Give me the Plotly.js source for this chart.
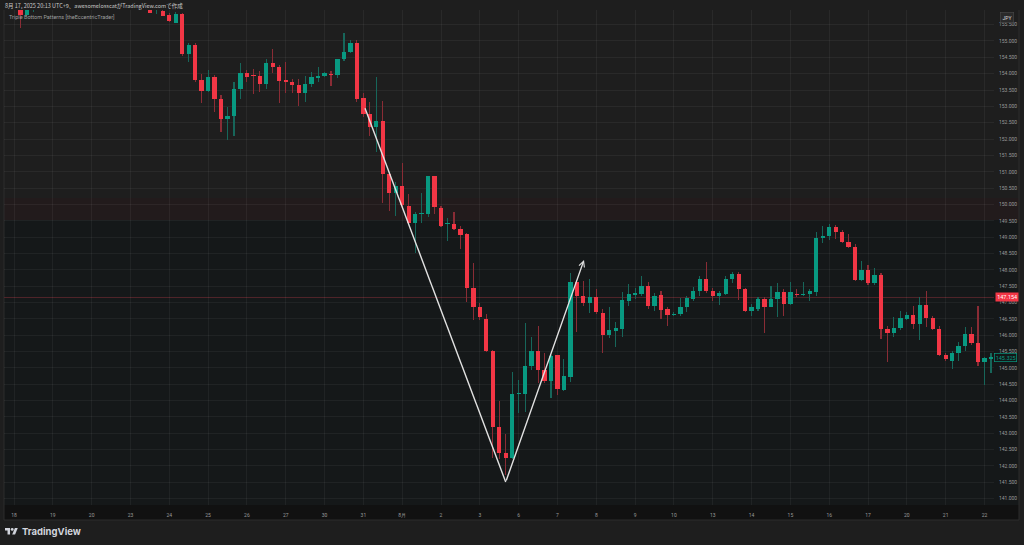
<!DOCTYPE html>
<html><head><meta charset="utf-8">
<script src="https://cdn.plot.ly/plotly-3.0.1.min.js"></script>
<style>html,body{margin:0;padding:0;background:#1e1e1e;overflow:hidden}#chart{width:1024px;height:545px}</style>
</head><body><div id="chart"></div>
<script>
// USD/JPY 4H candles, bar 0 = first session of "18"; null = above the visible range
const open = [
 null,156.20,155.80,156.10,null,null,null,null,null,null,
 null,null,null,null,null,null,null,null,null,null,
 null,156.10,155.98,155.92,155.80,155.56,155.83,154.60,154.87,153.81,
 153.47,153.90,153.24,152.61,152.71,153.52,154.03,153.94,153.93,153.68,
 154.32,154.21,153.81,153.76,153.65,153.42,153.68,153.87,153.93,153.97,
 153.96,154.44,154.67,154.95,153.25,152.77,152.38,152.56,150.93,150.34,
 150.56,149.95,149.44,149.72,149.71,150.87,149.90,149.39,149.40,149.26,
 149.09,147.44,146.85,146.50,145.53,143.18,142.41,142.25,144.21,144.20,
 145.06,145.53,144.94,144.61,145.39,144.32,144.73,147.64,147.20,146.99,
 147.18,146.67,146.01,146.14,146.19,147.06,147.23,147.26,147.51,146.89,
 147.22,146.79,146.62,146.64,146.85,147.12,147.36,147.73,147.36,147.21,
 147.26,147.71,147.86,147.41,146.74,146.79,147.11,146.87,147.12,147.32,
 146.95,147.27,147.23,147.27,147.33,148.96,149.03,149.32,149.15,148.86,
 148.71,147.69,148.00,147.59,147.83,146.20,146.08,146.21,146.50,146.61,
 146.34,146.92,146.54,146.19,145.39,145.22,145.45,145.67,146.04,145.77,
 145.19,145.26];
const high = [
 null,156.30,156.20,156.40,null,null,null,null,null,null,
 null,null,null,null,null,null,null,null,null,null,
 null,156.20,156.10,155.95,155.85,155.89,155.87,154.95,154.95,153.99,
 154.11,153.95,153.35,152.99,153.74,154.32,154.10,154.14,154.09,154.44,
 154.75,154.28,154.37,153.85,153.84,153.93,154.04,154.21,154.06,154.09,
 154.44,155.24,155.03,155.03,153.42,153.14,153.91,153.17,151.00,150.70,
 151.26,150.32,149.78,150.34,150.87,150.87,149.95,149.58,149.78,149.35,
 149.14,148.20,146.98,146.64,145.55,144.00,142.98,144.88,144.63,146.38,
 145.95,146.28,145.45,145.40,145.40,145.26,147.91,147.70,147.67,147.71,
 147.40,146.79,146.87,146.41,147.33,147.56,147.45,147.81,147.63,147.30,
 147.35,146.85,146.70,147.13,147.20,147.48,147.80,148.24,147.45,147.35,
 147.81,147.94,147.92,147.45,146.95,147.17,147.17,147.51,147.61,147.40,
 147.64,147.40,147.64,147.40,149.17,149.35,149.40,149.37,149.22,149.10,
 148.78,148.27,148.15,148.05,147.89,146.28,146.55,146.74,146.70,146.89,
 147.16,147.35,146.58,146.29,145.45,145.53,145.80,146.24,146.24,146.89,
 145.32,145.46];
const low = [
 null,155.39,155.75,155.88,null,null,null,null,null,null,
 null,null,null,null,null,null,null,null,null,null,
 null,155.85,155.83,155.75,155.58,155.54,154.54,154.37,153.75,153.11,
 153.45,152.84,152.23,151.97,152.09,153.23,153.75,153.38,153.45,153.52,
 154.03,153.11,153.40,153.40,153.01,153.14,153.60,153.75,153.90,153.62,
 153.86,154.40,154.62,153.14,152.67,152.09,151.61,150.05,149.81,149.65,
 149.88,149.40,148.52,149.44,149.63,149.71,149.32,148.89,149.22,148.63,
 147.03,146.47,146.47,145.50,142.23,142.20,141.72,142.20,143.61,143.66,
 144.94,144.53,144.55,144.07,144.17,144.28,144.58,146.11,146.89,146.67,
 146.65,145.45,145.91,145.65,145.95,146.90,147.10,147.20,146.80,146.75,
 146.51,146.28,146.58,146.60,146.72,147.05,147.20,147.30,147.06,146.92,
 147.22,147.59,147.08,146.70,146.60,146.75,146.08,146.85,146.55,146.59,
 146.93,147.18,147.20,147.06,147.20,148.81,148.90,148.93,148.82,148.68,
 147.65,147.65,147.55,147.55,145.87,145.19,145.95,146.15,146.45,146.19,
 145.85,146.24,146.15,145.35,145.20,144.96,145.20,145.53,145.70,145.06,
 144.48,144.85];
const close = [
 null,155.80,156.10,156.30,null,null,null,null,null,null,
 null,null,null,null,null,null,null,null,null,null,
 null,155.87,156.05,155.77,155.61,155.83,154.60,154.87,153.81,153.47,
 153.90,153.23,152.61,152.71,153.52,154.03,153.89,153.92,153.68,154.32,
 154.21,153.79,153.76,153.65,153.42,153.68,153.89,153.94,154.03,153.95,
 154.44,154.67,154.95,153.23,152.76,152.38,152.56,150.93,150.34,150.56,
 149.98,149.44,149.70,149.73,150.87,149.91,149.34,149.41,149.25,149.07,
 147.44,146.85,146.55,145.53,143.18,142.41,142.25,144.20,144.23,145.06,
 145.53,144.94,144.61,145.37,144.35,144.75,147.64,147.20,146.99,147.18,
 146.70,146.01,146.16,146.21,147.08,147.26,147.30,147.51,146.89,147.21,
 146.77,146.61,146.64,146.85,147.13,147.36,147.73,147.36,147.20,147.28,
 147.73,147.86,147.41,146.74,146.85,147.11,146.87,147.12,147.32,146.95,
 147.32,147.23,147.27,147.35,148.96,149.04,149.30,149.15,148.86,148.71,
 147.69,148.00,147.61,147.83,146.20,146.08,146.23,146.52,146.61,146.34,
 146.92,146.52,146.18,145.39,145.26,145.45,145.67,146.04,145.77,145.19,
 145.29,145.34];

// date axis: bar index of each day label and its text
const tickBars = [0,6,12,18,24,30,36,42,48,54,60,66,72,78,84,90,96,102,108,114,120,126,132,138,144,150];
const tickText = ['18','19','20','23','24','25','26','27','30','31','8月','2','3','6','7','8','9','10','13','14','15','16','17','20','21','22'];

// triple-bottom pattern drawing: start, bottom, projected tip
const patternBar = [54.25, 76, 88.1];
const patternPrice = [152.94, 141.51, 148.30];

const lastPrice = 147.154;   // red price line / label
const quotePrice = 145.325;  // green label

// ---------- rendering ----------
const W = 1024, H = 545, L = 4, R = 30, T = 10, B = 40;
const px2x = p => (p - L) / (W - L - R);
const py2y = p => (H - B - p) / (H - T - B);

const RED = '#f23645', GREEN = '#089981';
const bars = open.map((_, i) => i);
const up = open.map((o, i) => o !== null && close[i] >= o);
const bodyBase = open.map((o, i) => o === null ? null : Math.min(o, close[i]));
const bodyLen = open.map((o, i) => o === null ? null : Math.max(Math.abs(close[i] - o), 0.03));
const wickLen = high.map((h, i) => h === null ? null : h - low[i]);

const wicks = {
  type: 'bar', x: bars, base: low, y: wickLen, width: 0.17,
  marker: {color: up.map(u => u ? '#17665a' : '#8a2c35'), line: {width: 0}},
  hoverinfo: 'skip', showlegend: false
};
const bodies = {
  type: 'bar', x: bars, base: bodyBase, y: bodyLen, width: 0.66,
  marker: {color: up.map(u => u ? GREEN : RED), line: {width: 0}},
  hoverinfo: 'skip', showlegend: false
};
const vLine = {
  type: 'scatter', mode: 'lines', x: patternBar.slice(0, 2), y: patternPrice.slice(0, 2),
  line: {color: '#e2e2e2', width: 1.4}, hoverinfo: 'skip', showlegend: false
};

function rectPx(x0, y0, x1, y1, color) {
  return {type: 'rect', xref: 'paper', yref: 'paper', layer: 'below',
    x0: px2x(x0), x1: px2x(x1), y0: py2y(y1), y1: py2y(y0),
    fillcolor: color, line: {width: 0}};
}
// TradingView logo
const logoPts = [[14,22],[7,22],[7,11],[0,11],[0,4],[14,4]];
const logoPts2 = [[28,22],[20,22],[27.5,4],[35.5,4]];
const lx = 5, ly = 526.5, ls = 0.36;
const toPath = pts => 'M' + pts.map(p => px2x(lx + p[0]*ls) + ',' + py2y(ly + p[1]*ls)).join('L') + 'Z';

const shapes = [
  rectPx(4, 220, 1019, 505, '#151819'),
  rectPx(4, 198, 1019, 220, '#221b1c'),
  rectPx(4, 505, 1019, 520, '#111111'),
  {type: 'line', xref: 'paper', yref: 'paper', x0: px2x(4), x1: px2x(4), y0: py2y(520), y1: py2y(10), line: {color: '#2c2c2c', width: 1}, layer: 'below'},
  {type: 'line', xref: 'paper', yref: 'paper', x0: px2x(1019), x1: px2x(1019), y0: py2y(520), y1: py2y(10), line: {color: '#2c2c2c', width: 1}, layer: 'below'},
  {type: 'line', xref: 'paper', yref: 'paper', x0: px2x(4), x1: px2x(1019), y0: py2y(520), y1: py2y(520), line: {color: '#2c2c2c', width: 1}, layer: 'below'},
  {type: 'line', xref: 'paper', yref: 'y', x0: 0, x1: 1, y0: lastPrice, y1: lastPrice, line: {color: '#52262b', width: 1}, layer: 'below'},
  {type: 'path', xref: 'paper', yref: 'paper', path: toPath(logoPts), fillcolor: '#d1d4dc', line: {width: 0}},
  {type: 'path', xref: 'paper', yref: 'paper', path: toPath(logoPts2), fillcolor: '#d1d4dc', line: {width: 0}},
  {type: 'circle', xref: 'paper', yref: 'paper', x0: px2x(lx + 16*ls), x1: px2x(lx + 24*ls), y0: py2y(ly + 12*ls), y1: py2y(ly + 4*ls), fillcolor: '#d1d4dc', line: {width: 0}}
];

const annotations = [
  {x: patternBar[2], y: patternPrice[2], ax: patternBar[1], ay: patternPrice[1], xref: 'x', yref: 'y', axref: 'x', ayref: 'y',
   text: '', showarrow: true, arrowhead: 5, arrowsize: 0.8, arrowwidth: 1.4, arrowcolor: '#e2e2e2'},
  {xref: 'paper', yref: 'paper', x: px2x(3), y: py2y(6), xanchor: 'left', yanchor: 'middle', showarrow: false,
   text: '8月 17, 2025 20:13 UTC+9、awesomelosscatがTradingView.comで作成',
   font: {family: 'Noto Sans CJK JP, sans-serif', size: 5.5, color: '#c9c9c9'}},
  {xref: 'paper', yref: 'paper', x: px2x(7), y: py2y(17), xanchor: 'left', yanchor: 'middle', showarrow: false,
   text: 'Triple Bottom Patterns [theEccentricTrader]',
   font: {family: 'Roboto, sans-serif', size: 5.5, color: '#9e9e9e'}},
  {xref: 'paper', yref: 'paper', x: px2x(1007), y: py2y(18), xanchor: 'center', yanchor: 'middle', showarrow: false,
   text: 'JPY', bgcolor: '#2a2a2a', bordercolor: '#4a4a4a', borderwidth: 0.6, borderpad: 2,
   font: {family: 'Roboto, sans-serif', size: 5, color: '#d6d6d6'}},
  {xref: 'paper', yref: 'y', x: px2x(995), y: lastPrice, xanchor: 'left', yanchor: 'middle', showarrow: false,
   text: lastPrice.toFixed(3), bgcolor: RED, borderpad: 1.2,
   font: {family: 'Roboto, sans-serif', size: 5.5, color: '#ffffff'}},
  {xref: 'paper', yref: 'y', x: px2x(994), y: quotePrice, xanchor: 'left', yanchor: 'middle', showarrow: false,
   text: quotePrice.toFixed(3), bgcolor: '#131718', bordercolor: GREEN, borderwidth: 0.7, borderpad: 1,
   font: {family: 'Roboto, sans-serif', size: 5.5, color: GREEN}},
  {xref: 'paper', yref: 'paper', x: px2x(20), y: py2y(532), xanchor: 'left', yanchor: 'middle', showarrow: false,
   text: '<b>TradingView</b>', font: {family: 'Inter, Roboto, sans-serif', size: 9.5, color: '#d1d4dc'}}
];

const layout = {
  width: W, height: H,
  margin: {l: L, r: R, t: T, b: B, pad: 0},
  paper_bgcolor: '#1e1e1e', plot_bgcolor: 'rgba(0,0,0,0)',
  barmode: 'overlay', bargap: 0, showlegend: false,
  xaxis: {range: [-1.546, 151.47], tickmode: 'array', tickvals: tickBars, ticktext: tickText,
    showgrid: true, gridcolor: 'rgba(255,255,255,0.05)', gridwidth: 1, zeroline: false, showline: false,
    ticks: '', ticklabelstandoff: 6, tickfont: {family: 'Roboto, sans-serif', size: 5, color: '#9a9a9a'}, fixedrange: true},
  yaxis: {range: [140.806, 155.948], side: 'right', dtick: 0.5, tick0: 141, tickformat: '.3f',
    showgrid: true, gridcolor: 'rgba(255,255,255,0.05)', gridwidth: 1, zeroline: false, showline: false,
    ticks: '', ticklabelstandoff: 4, tickfont: {family: 'Roboto, sans-serif', size: 5, color: '#9a9a9a'}, fixedrange: true},
  shapes: shapes, annotations: annotations
};

Plotly.newPlot('chart', [wicks, bodies, vLine], layout, {staticPlot: true, displayModeBar: false});
</script></body></html>
